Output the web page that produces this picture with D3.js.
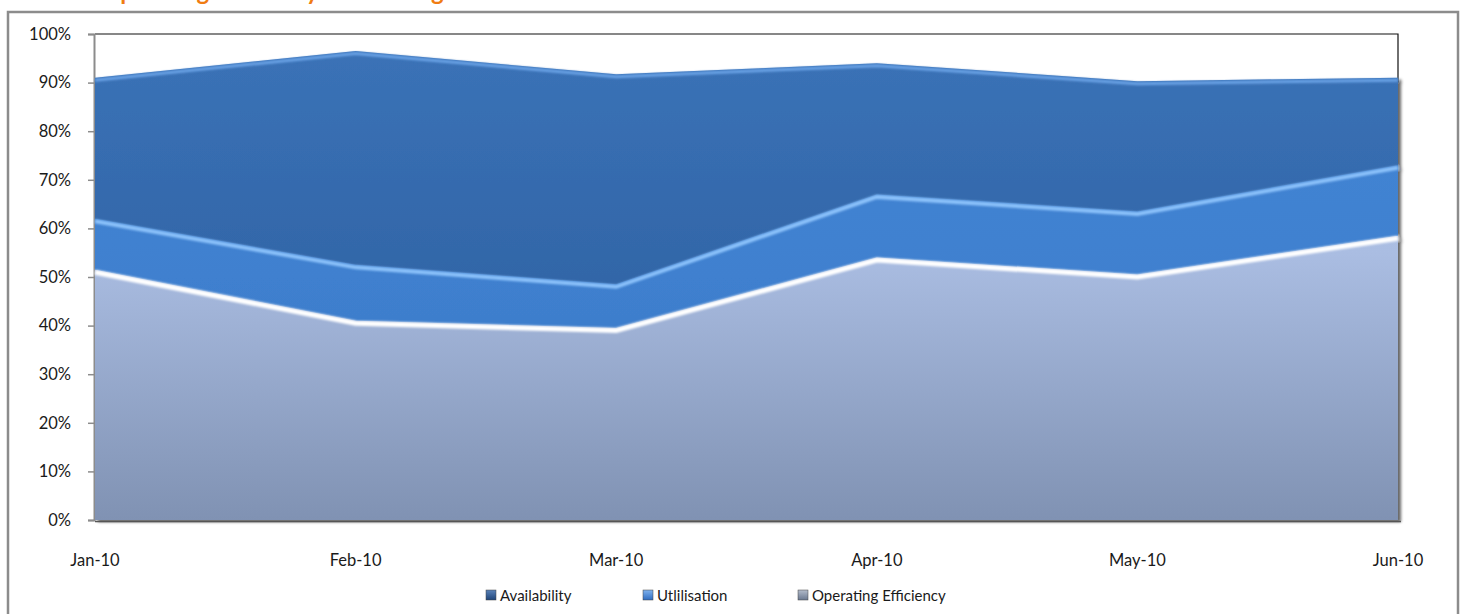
<!DOCTYPE html>
<html>
<head>
<meta charset="utf-8">
<script src="https://cdn.jsdelivr.net/npm/d3@7"></script>
<style>
  body { margin: 0; background: #fff; }
  text { font-family: Lato, "Open Sans", sans-serif; fill: #1a1a1a; }
</style>
</head>
<body>
<svg id="chart" width="1466" height="614"></svg>
<script>
// chart data
let months = ["Jan-10", "Feb-10", "Mar-10", "Apr-10", "May-10", "Jun-10"];
let availability = [91.0, 96.5, 91.7, 94.0, 90.3, 91.0];
let utilisation = [62.0, 52.5, 48.5, 67.0, 63.5, 73.0];
let efficiency = [51.5, 41.0, 39.5, 54.0, 50.5, 58.5];
let yTicks = [0, 10, 20, 30, 40, 50, 60, 70, 80, 90, 100];
let seriesNames = ["Availability", "Utlilisation", "Operating Efficiency"];

let svg = d3.select('#chart');
let defs = svg.append('defs');

let x = d3.scalePoint().domain(months).range([95, 1398]);
let y = d3.scaleLinear().domain([0, 100]).range([520, 34]);

// gradients for each band
function vGrad(id, stops) {
    let g = defs.append('linearGradient')
        .attr('id', id)
        .attr('gradientUnits', 'userSpaceOnUse')
        .attr('x1', 0).attr('x2', 0)
        .attr('y1', y(100)).attr('y2', y(0));
    stops.forEach(function(s) {
        g.append('stop').attr('offset', s[0]).attr('stop-color', s[1]);
    });
}
vGrad('gAvail', [[0, '#3b73b8'], [0.5, '#3266a8'], [1, '#2d5d98']]);
vGrad('gUtil', [[0, '#4587d6'], [0.5, '#3f80cf'], [1, '#3974bf']]);
vGrad('gEff', [[0, '#b8caee'], [0.45, '#aabde2'], [1, '#8092b3']]);

let shadow = defs.append('filter').attr('id', 'shadow')
    .attr('x', '-5%').attr('y', '-5%').attr('width', '110%').attr('height', '110%');
shadow.append('feGaussianBlur').attr('in', 'SourceAlpha').attr('stdDeviation', 1.5);
shadow.append('feOffset').attr('dx', 3).attr('dy', 2).attr('result', 'off');
shadow.append('feComponentTransfer').append('feFuncA').attr('type', 'linear').attr('slope', 0.6);
let merge = shadow.append('feMerge');
merge.append('feMergeNode');
merge.append('feMergeNode').attr('in', 'SourceGraphic');

defs.append('filter').attr('id', 'soft')
    .append('feGaussianBlur').attr('stdDeviation', 1.1);

// outer border
svg.append('rect')
    .attr('x', 8).attr('y', 12)
    .attr('width', 1450).attr('height', 620)
    .attr('fill', 'none')
    .attr('stroke', '#8c8c8c')
    .attr('stroke-width', 2.5);

// title, cut off by the top edge like in the source
svg.append('text')
    .attr('x', 101).attr('y', 0)
    .style('fill', '#f07c12')
    .style('font-weight', 'bold')
    .style('font-size', '24px')
    .text('Operating Efficiency Monitoring');

// back wall edges
svg.append('path')
    .attr('d', 'M' + x(months[0]) + ',' + y(100) + 'H' + x(months[5]) + 'V' + y(90))
    .attr('fill', 'none')
    .attr('stroke', '#111')
    .attr('stroke-width', 1.2);

// y axis
let yAxis = svg.append('g')
    .attr('transform', 'translate(94,0)')
    .call(d3.axisLeft(y).tickValues(yTicks).tickSize(6).tickPadding(17)
        .tickFormat(function(d) { return d + '%'; }));
yAxis.select('.domain').attr('stroke', '#8c8c8c').attr('stroke-width', 2);
yAxis.selectAll('.tick line').attr('stroke', '#8c8c8c').attr('stroke-width', 1.5);
yAxis.selectAll('.tick text').style('font-size', '16.5px').style('fill', '#1a1a1a')
    .style('font-family', 'Lato, sans-serif');

let layers = [
    { vals: availability, fill: 'url(#gAvail)', hi: '#6aa3e6', hiW: 3 },
    { vals: utilisation, fill: 'url(#gUtil)', hi: '#8cc2fb', hiW: 4 },
    { vals: efficiency, fill: 'url(#gEff)', hi: '#ffffff', hiW: 5 }
];

let plot = svg.append('g').attr('filter', 'url(#shadow)');

layers.forEach(function(l) {
    let area = d3.area()
        .x(function(d, i) { return x(months[i]); })
        .y0(y(0))
        .y1(function(d) { return y(d); });
    let line = d3.line()
        .x(function(d, i) { return x(months[i]); })
        .y(function(d) { return y(d) + 2.5; });

    plot.append('path')
        .datum(l.vals)
        .attr('d', area)
        .attr('fill', l.fill);

    plot.append('path')
        .datum(l.vals)
        .attr('d', line)
        .attr('fill', 'none')
        .attr('stroke', l.hi)
        .attr('stroke-width', l.hiW)
        .attr('filter', 'url(#soft)');
});

// floor edge
svg.append('line')
    .attr('x1', 95).attr('x2', 1401)
    .attr('y1', 521.5).attr('y2', 521.5)
    .attr('stroke', '#555')
    .attr('stroke-width', 1.5);

// x labels
svg.append('g').selectAll('text')
    .data(months)
    .enter().append('text')
    .attr('x', function(d) { return x(d); })
    .attr('y', 566)
    .attr('text-anchor', 'middle')
    .style('font-size', '16.5px')
    .text(function(d) { return d; });

// legend
let legendX = [486, 643, 798];
let legendCol = [['#5a82b8', '#1f4478'], ['#7fb2ee', '#2f6cc0'], ['#b3bccb', '#6a7890']];
seriesNames.forEach(function(name, i) {
    let gid = 'leg' + i;
    let g = defs.append('linearGradient').attr('id', gid)
        .attr('x1', 0).attr('x2', 0).attr('y1', 0).attr('y2', 1);
    g.append('stop').attr('offset', 0).attr('stop-color', legendCol[i][0]);
    g.append('stop').attr('offset', 1).attr('stop-color', legendCol[i][1]);

    svg.append('rect')
        .attr('x', legendX[i]).attr('y', 590)
        .attr('width', 10).attr('height', 10)
        .attr('fill', 'url(#' + gid + ')')
        .attr('stroke', '#444').attr('stroke-width', 0.5);
    svg.append('text')
        .attr('x', legendX[i] + 14).attr('y', 600.5)
        .style('font-size', '15px')
        .text(name);
});
</script>
</body>
</html>
